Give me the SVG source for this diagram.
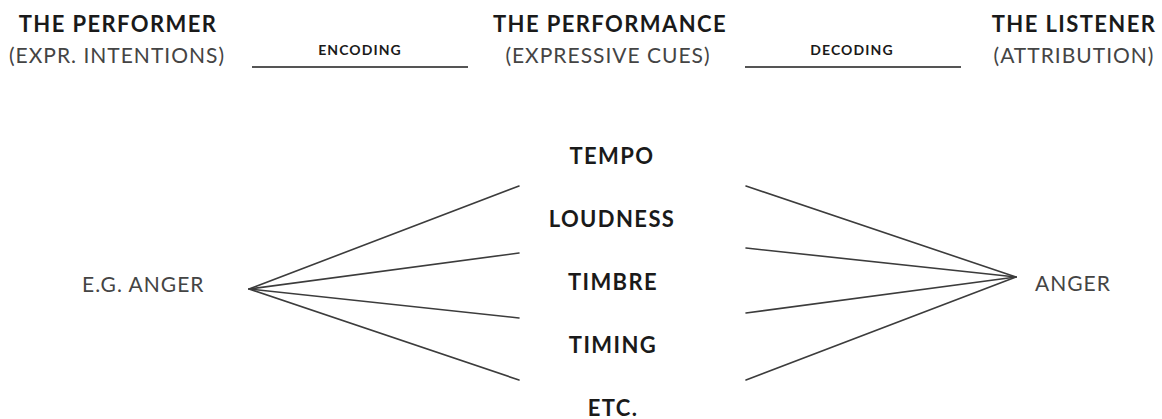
<svg xmlns="http://www.w3.org/2000/svg" width="1162" height="419" viewBox="0 0 1162 419">
<style>
  .b{font-family:Lato,"Open Sans","Liberation Sans",sans-serif;font-weight:bold;fill:#1a1a1a;text-anchor:middle}
  .h{font-size:22px;letter-spacing:1.4px}
  .c{font-size:22px;letter-spacing:1.4px}
  .s{font-size:14px;letter-spacing:1.1px}
  .l{font-family:Lato,"Open Sans","Liberation Sans",sans-serif;font-weight:normal;fill:#444;font-size:21px;letter-spacing:1px}
  .m{text-anchor:middle}
  .ln{stroke:#3c3c3c;stroke-width:1.6;fill:none;stroke-linecap:round}
  .rule{stroke:#555;stroke-width:2.2;fill:none}
</style>
<g id="performer">
  <text class="b h" x="118" y="32">THE PERFORMER</text>
  <text class="l m" x="117" y="63">(EXPR. INTENTIONS)</text>
</g>
<g id="performance">
  <text class="b h" x="610" y="32">THE PERFORMANCE</text>
  <text class="l m" x="608" y="63">(EXPRESSIVE CUES)</text>
</g>
<g id="listener">
  <text class="b h" x="1074" y="32">THE LISTENER</text>
  <text class="l m" x="1074" y="63">(ATTRIBUTION)</text>
</g>
<g id="encoding">
  <text class="b s" x="360" y="55">ENCODING</text>
  <line class="rule" x1="252" y1="67" x2="468" y2="67"/>
</g>
<g id="decoding">
  <text class="b s" x="852" y="55">DECODING</text>
  <line class="rule" x1="745" y1="67" x2="961" y2="67"/>
</g>
<g id="eg-anger"><text class="l" x="82" y="292">E.G. ANGER</text></g>
<g id="anger"><text class="l" x="1035" y="291">ANGER</text></g>
<g id="tempo"><text class="b c" x="612" y="164">TEMPO</text></g>
<g id="loudness"><text class="b c" x="612" y="227">LOUDNESS</text></g>
<g id="timbre"><text class="b c" x="613" y="290">TIMBRE</text></g>
<g id="timing"><text class="b c" x="613" y="353">TIMING</text></g>
<g id="etc"><text class="b c" x="613" y="416">ETC.</text></g>
<g id="connectors">
  <line class="ln" x1="249" y1="289" x2="519" y2="186"/>
  <line class="ln" x1="249" y1="289" x2="519" y2="253"/>
  <line class="ln" x1="249" y1="289" x2="519" y2="318"/>
  <line class="ln" x1="249" y1="289" x2="519" y2="380"/>
  <line class="ln" x1="1016" y1="277" x2="746" y2="186"/>
  <line class="ln" x1="1016" y1="277" x2="746" y2="248"/>
  <line class="ln" x1="1016" y1="277" x2="746" y2="313"/>
  <line class="ln" x1="1016" y1="277" x2="746" y2="380"/>
</g>
</svg>
